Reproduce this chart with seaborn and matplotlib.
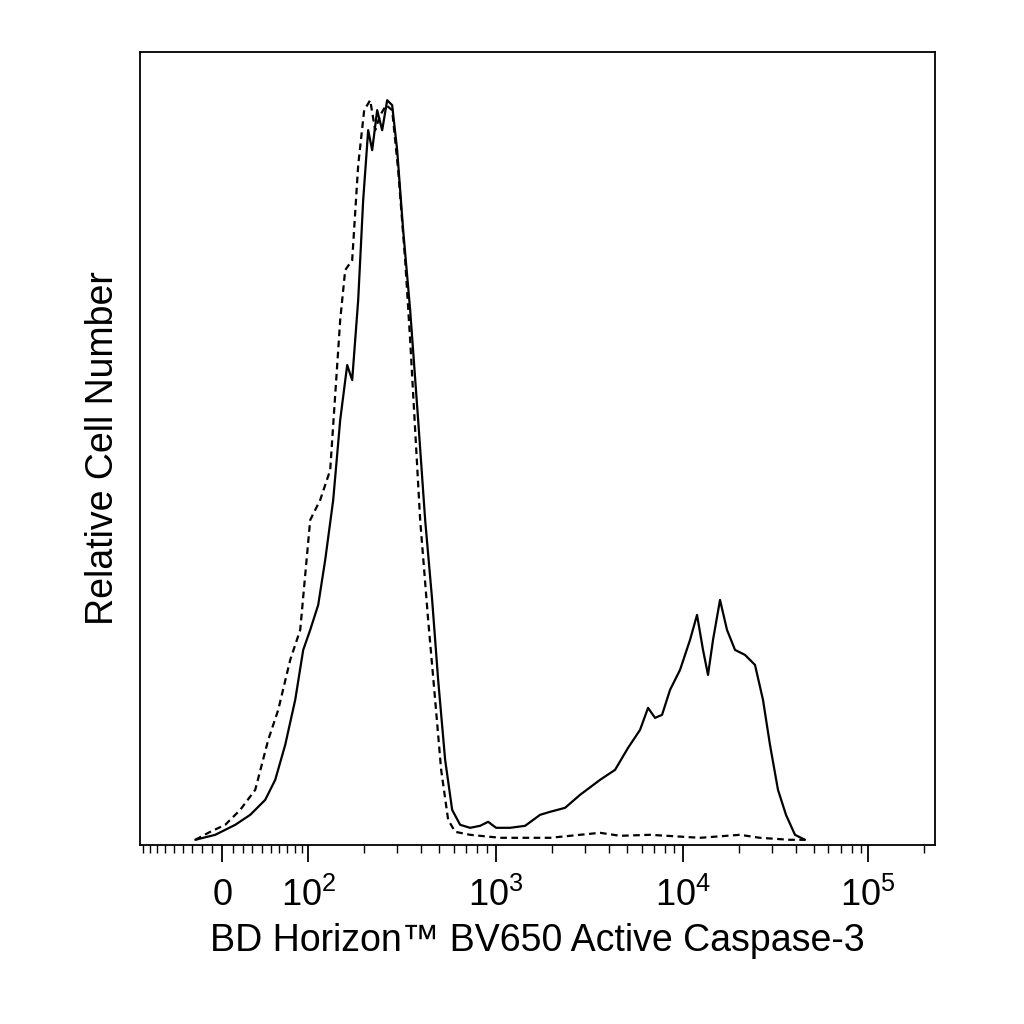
import numpy as np
import matplotlib
matplotlib.use("Agg")
import matplotlib.pyplot as plt
import seaborn as sns
import pandas as pd

# channel units (display scale), height in relative counts
solid_x = [55,75,95,110,125,135,145,155,163,170,178,185,193,200,207,212,218,223,228,232,237,242,247,252,257,263,270,278,285,292,298,305,312,320,330,340,348,356,370,385,400,410,425,440,460,475,488,500,508,515,522,530,540,550,557,563,568,573,580,587,595,605,615,623,630,638,646,655,665]
solid_y = [0,5,15,25,40,60,95,140,190,210,235,280,340,420,475,460,540,640,710,690,730,710,740,735,690,610,530,420,320,240,160,80,30,15,12,14,18,12,12,14,25,28,32,45,60,70,92,110,132,122,125,150,170,200,225,190,165,200,240,210,190,185,175,140,95,50,25,5,0]
dash_x = [55,70,85,100,115,128,138,150,160,170,180,190,200,205,212,218,224,230,235,240,246,252,258,265,270,275,280,288,295,301,308,315,330,360,410,460,480,510,560,600,620,650,665]
dash_y = [0,8,15,30,50,100,130,180,210,320,340,370,520,570,580,675,730,740,710,725,735,730,670,580,500,410,320,220,140,70,20,8,5,2,2,7,4,5,2,5,2,0,0]
major_vals = ["0", "$10^2$", "$10^3$", "$10^4$", "$10^5$"]
major_pos = [82, 168, 356, 543, 728]

sns.set_theme(style="white")
plt.rcParams['font.family'] = ['Liberation Sans', 'DejaVu Sans']
plt.rcParams['mathtext.fontset'] = 'custom'
plt.rcParams['mathtext.rm'] = 'Liberation Sans'
plt.rcParams['mathtext.it'] = 'Liberation Sans'

fig = plt.figure(figsize=(10.24, 10.24), dpi=100)
ax = fig.add_axes([0.137, 0.175, 0.776, 0.774])
sns.lineplot(x=solid_x, y=solid_y, ax=ax, color="black", lw=1.6, sort=False)
sns.lineplot(x=dash_x, y=dash_y, ax=ax, color="black", lw=1.6, sort=False, linestyle=(0, (3, 2)))
ax.set_xlim(0, 795)
ax.set_ylim(-5, 788)
ax.set_yticks([])

def ch(v):
    return 82 + 187 * np.arcsinh(v / 78.8) / np.log(10)
minor = [ch(-v) for v in range(10, 100, 10)] + [ch(v) for v in range(10, 100, 10)]
for k in range(3):
    for m in range(2, 10):
        minor.append(major_pos[k + 1] + 187 * np.log10(m))
minor.append(ch(-100))
for m in range(2, 4):
    minor.append(major_pos[4] + 187 * np.log10(m))
minor = [p for p in minor if 0 < p < 795]
ax.set_xticks(major_pos)
ax.set_xticklabels(major_vals, fontsize=26)
ax.set_xticks(minor, minor=True)
ax.tick_params(axis="x", which="major", direction="out", length=12, width=1.3, bottom=True, colors="black", pad=12)
ax.tick_params(axis="x", which="minor", direction="out", length=6, width=1.0, bottom=True, colors="black")
for s in ax.spines.values():
    s.set_color("black"); s.set_linewidth(1.3)
ax.set_xlabel("BD Horizon™ BV650 Active Caspase-3", fontsize=27, labelpad=6, color="black")
ax.set_ylabel("Relative Cell Number", fontsize=27, labelpad=14, color="black")
fig.savefig("out.png", dpi=100, facecolor="white")
